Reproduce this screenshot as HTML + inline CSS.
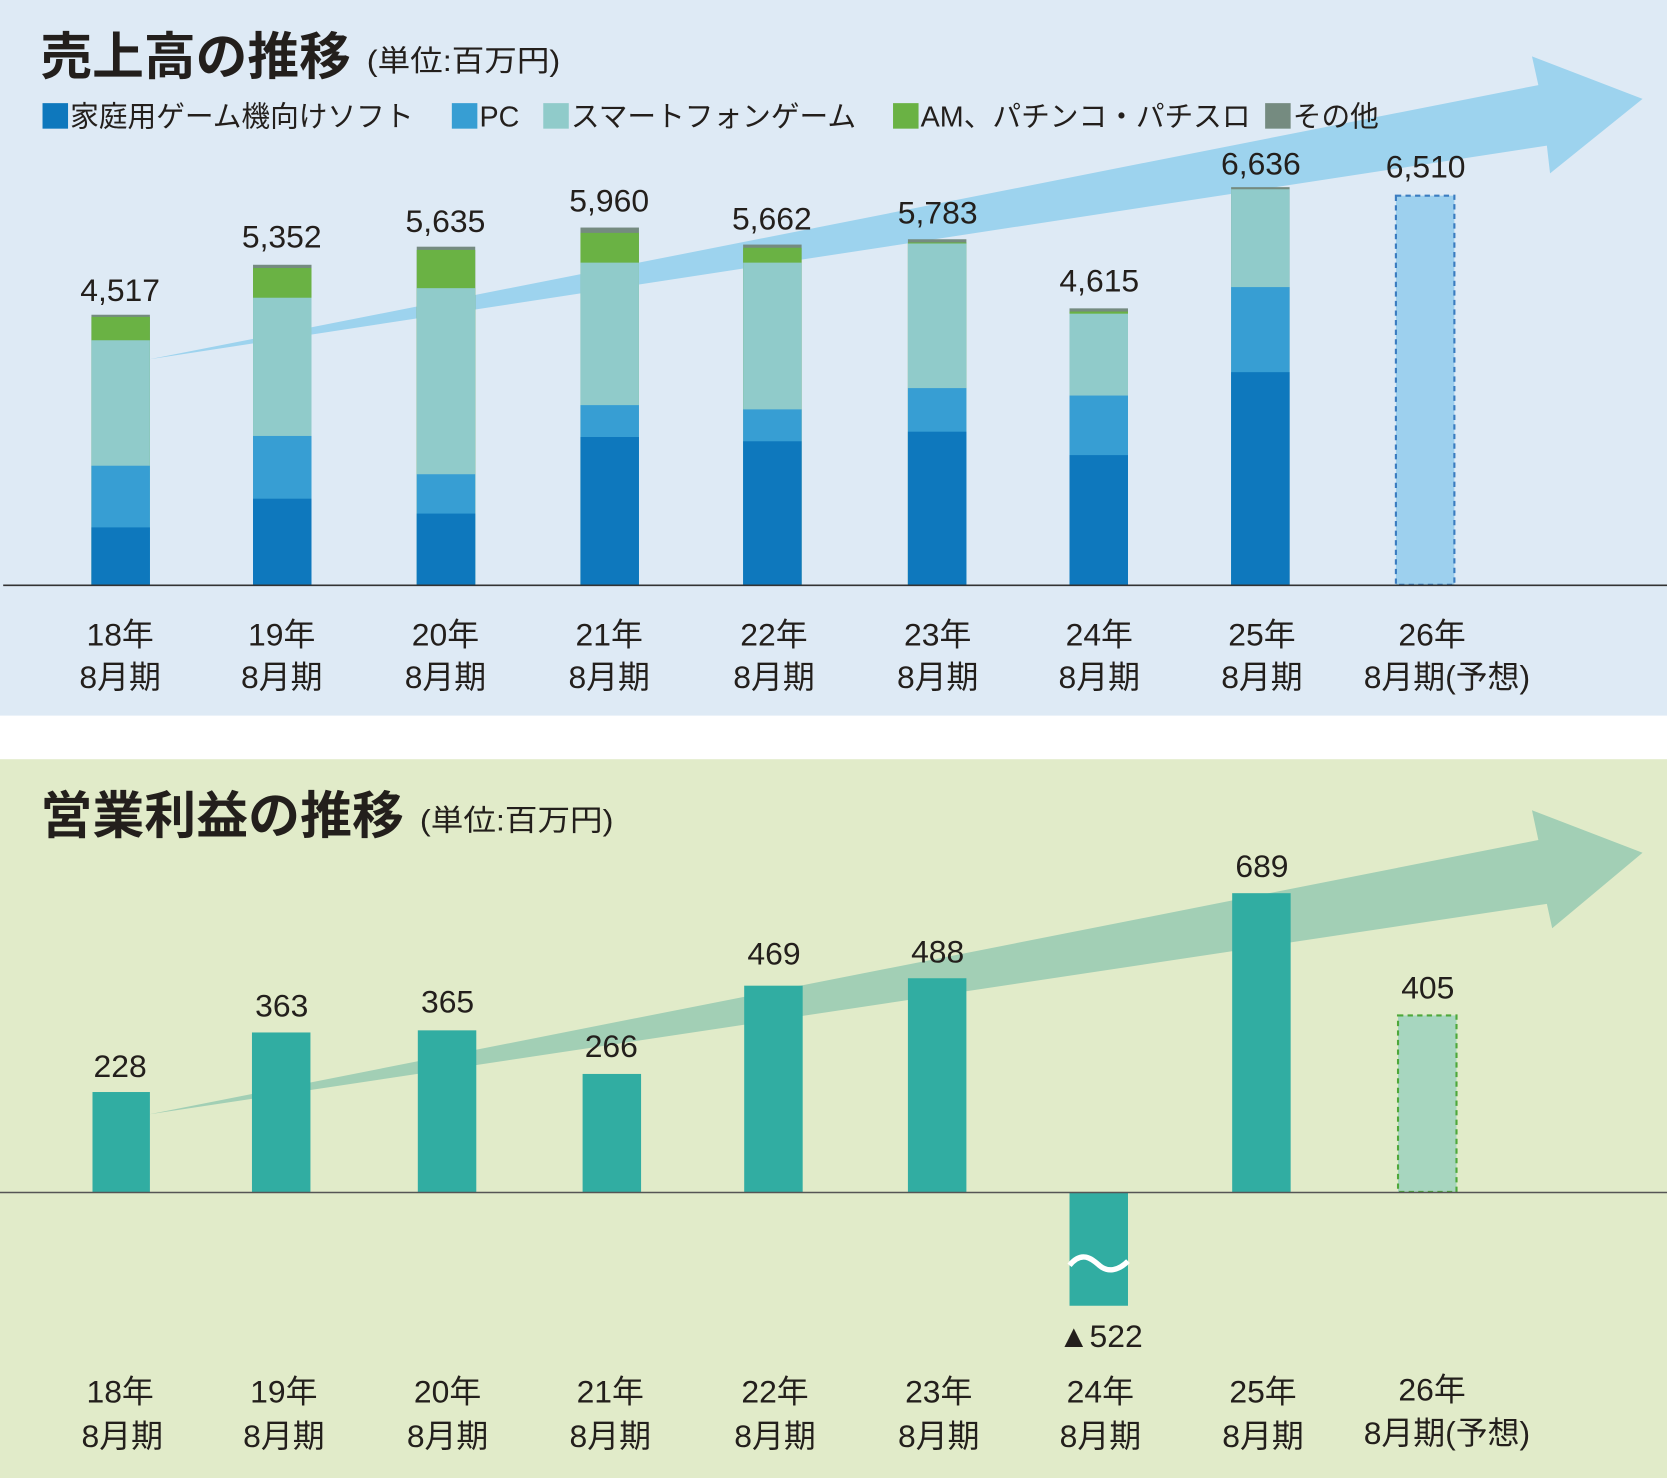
<!DOCTYPE html>
<html><head><meta charset="utf-8"><style>
html,body{margin:0;padding:0;background:#fff}
svg{display:block}
text{font-family:"Liberation Sans","Noto Sans CJK JP",sans-serif;fill:#231f1c}
</style></head><body>
<svg width="1667" height="1478" viewBox="0 0 1568 1390" preserveAspectRatio="none" xmlns="http://www.w3.org/2000/svg">
<rect x="0" y="0" width="1568" height="673" fill="#deeaf5"/>
<rect x="0" y="714" width="1568" height="676" fill="#e1ebc9"/>
<polygon points="140,338 1447,80 1441,53 1545,93 1458,163 1455,137" fill="#9dd3ee"/>
<text x="38" y="70" font-size="48" font-weight="bold" textLength="292" lengthAdjust="spacingAndGlyphs">売上高の推移</text>
<text x="345" y="67" font-size="28" textLength="182" lengthAdjust="spacingAndGlyphs">(単位:百万円)</text>
<g font-size="27">
<rect x="40" y="97" width="24" height="24" fill="#0e78bd"/><text x="66" y="119">家庭用ゲーム機向けソフト</text>
<rect x="425" y="97" width="24" height="24" fill="#379ed3"/><text x="451" y="119">PC</text>
<rect x="511" y="97" width="24" height="24" fill="#90cbca"/><text x="537" y="119">スマートフォンゲーム</text>
<rect x="840" y="97" width="24" height="24" fill="#6ab244"/><text x="866" y="119">AM、パチンコ・パチスロ</text>
<rect x="1190" y="97" width="24" height="24" fill="#758b80"/><text x="1216" y="119">その他</text>
</g>
<g>
<rect x="86" y="296" width="55" height="254" fill="#758b80"/><rect x="86" y="298" width="55" height="252" fill="#6ab244"/><rect x="86" y="320" width="55" height="230" fill="#90cbca"/><rect x="86" y="438" width="55" height="112" fill="#379ed3"/><rect x="86" y="496" width="55" height="54" fill="#0e78bd"/>
<rect x="238" y="249" width="55" height="301" fill="#758b80"/><rect x="238" y="252" width="55" height="298" fill="#6ab244"/><rect x="238" y="280" width="55" height="270" fill="#90cbca"/><rect x="238" y="410" width="55" height="140" fill="#379ed3"/><rect x="238" y="469" width="55" height="81" fill="#0e78bd"/>
<rect x="392" y="232" width="55" height="318" fill="#758b80"/><rect x="392" y="235" width="55" height="315" fill="#6ab244"/><rect x="392" y="271" width="55" height="279" fill="#90cbca"/><rect x="392" y="446" width="55" height="104" fill="#379ed3"/><rect x="392" y="483" width="55" height="67" fill="#0e78bd"/>
<rect x="546" y="214" width="55" height="336" fill="#758b80"/><rect x="546" y="219" width="55" height="331" fill="#6ab244"/><rect x="546" y="247" width="55" height="303" fill="#90cbca"/><rect x="546" y="381" width="55" height="169" fill="#379ed3"/><rect x="546" y="411" width="55" height="139" fill="#0e78bd"/>
<rect x="699" y="230" width="55" height="320" fill="#758b80"/><rect x="699" y="233" width="55" height="317" fill="#6ab244"/><rect x="699" y="247" width="55" height="303" fill="#90cbca"/><rect x="699" y="385" width="55" height="165" fill="#379ed3"/><rect x="699" y="415" width="55" height="135" fill="#0e78bd"/>
<rect x="854" y="225" width="55" height="325" fill="#758b80"/><rect x="854" y="228" width="55" height="322" fill="#6ab244"/><rect x="854" y="229" width="55" height="321" fill="#90cbca"/><rect x="854" y="365" width="55" height="185" fill="#379ed3"/><rect x="854" y="406" width="55" height="144" fill="#0e78bd"/>
<rect x="1006" y="290" width="55" height="260" fill="#758b80"/><rect x="1006" y="293" width="55" height="257" fill="#6ab244"/><rect x="1006" y="295" width="55" height="255" fill="#90cbca"/><rect x="1006" y="372" width="55" height="178" fill="#379ed3"/><rect x="1006" y="428" width="55" height="122" fill="#0e78bd"/>
<rect x="1158" y="176" width="55" height="374" fill="#758b80"/><rect x="1158" y="178" width="55" height="372" fill="#90cbca"/><rect x="1158" y="270" width="55" height="280" fill="#379ed3"/><rect x="1158" y="350" width="55" height="200" fill="#0e78bd"/>
<rect x="1313" y="184" width="55" height="366" fill="#9dd0ee" stroke="#3a7cc0" stroke-width="2" stroke-dasharray="5,4"/>
</g>
<line x1="3" y1="550.5" x2="1568" y2="550.5" stroke="#333" stroke-width="1.5"/>
<g font-size="30" text-anchor="middle">
<text x="113" y="283">4,517</text><text x="265" y="233">5,352</text><text x="419" y="218">5,635</text><text x="573" y="199">5,960</text><text x="726" y="216">5,662</text><text x="882" y="210">5,783</text><text x="1034" y="274">4,615</text><text x="1186" y="164">6,636</text><text x="1341" y="167">6,510</text>
</g>
<g font-size="30" text-anchor="middle">
<text x="113" y="607">18年</text><text x="113" y="647">8月期</text>
<text x="265" y="607">19年</text><text x="265" y="647">8月期</text>
<text x="419" y="607">20年</text><text x="419" y="647">8月期</text>
<text x="573" y="607">21年</text><text x="573" y="647">8月期</text>
<text x="728" y="607">22年</text><text x="728" y="647">8月期</text>
<text x="882" y="607">23年</text><text x="882" y="647">8月期</text>
<text x="1034" y="607">24年</text><text x="1034" y="647">8月期</text>
<text x="1187" y="607">25年</text><text x="1187" y="647">8月期</text>
<text x="1347" y="607">26年</text><text x="1361" y="647">8月期(予想)</text>
</g>
<polygon points="140,1048 1447,790 1441,762 1545,802 1460,873 1455,850" fill="#a2cfb5"/>
<text x="38" y="784" font-size="48" font-weight="bold" textLength="342" lengthAdjust="spacingAndGlyphs">営業利益の推移</text>
<text x="395" y="781" font-size="28" textLength="182" lengthAdjust="spacingAndGlyphs">(単位:百万円)</text>
<g fill="#31ada2">
<rect x="87" y="1027" width="54" height="94"/>
<rect x="237" y="971" width="55" height="150"/>
<rect x="393" y="969" width="55" height="152"/>
<rect x="548" y="1010" width="55" height="111"/>
<rect x="700" y="927" width="55" height="194"/>
<rect x="854" y="920" width="55" height="201"/>
<rect x="1159" y="840" width="55" height="281"/>
<rect x="1006" y="1121" width="55" height="107"/>
</g>
<path d="M1006,1190 C1018,1175 1028,1185 1034,1190 C1042,1197 1052,1195 1061,1186" stroke="#fff" stroke-width="5" fill="none"/>
<rect x="1315" y="955" width="55" height="166" fill="#a7d6bf" stroke="#4ea83a" stroke-width="2" stroke-dasharray="5,4"/>
<line x1="0" y1="1121.5" x2="1568" y2="1121.5" stroke="#555" stroke-width="1.5"/>
<g font-size="30" text-anchor="middle">
<text x="113" y="1013">228</text><text x="265" y="956">363</text><text x="421" y="952">365</text><text x="575" y="994">266</text><text x="728" y="907">469</text><text x="882" y="905">488</text><text x="1187" y="825">689</text><text x="1343" y="939">405</text><text x="1035" y="1267">▲522</text>
</g>
<g font-size="30" text-anchor="middle">
<text x="113" y="1319">18年</text><text x="115" y="1361">8月期</text>
<text x="267" y="1319">19年</text><text x="267" y="1361">8月期</text>
<text x="421" y="1319">20年</text><text x="421" y="1361">8月期</text>
<text x="574" y="1319">21年</text><text x="574" y="1361">8月期</text>
<text x="729" y="1319">22年</text><text x="729" y="1361">8月期</text>
<text x="883" y="1319">23年</text><text x="883" y="1361">8月期</text>
<text x="1035" y="1319">24年</text><text x="1035" y="1361">8月期</text>
<text x="1188" y="1319">25年</text><text x="1188" y="1361">8月期</text>
<text x="1347" y="1317">26年</text><text x="1361" y="1358">8月期(予想)</text>
</g>
</svg>
</body></html>
